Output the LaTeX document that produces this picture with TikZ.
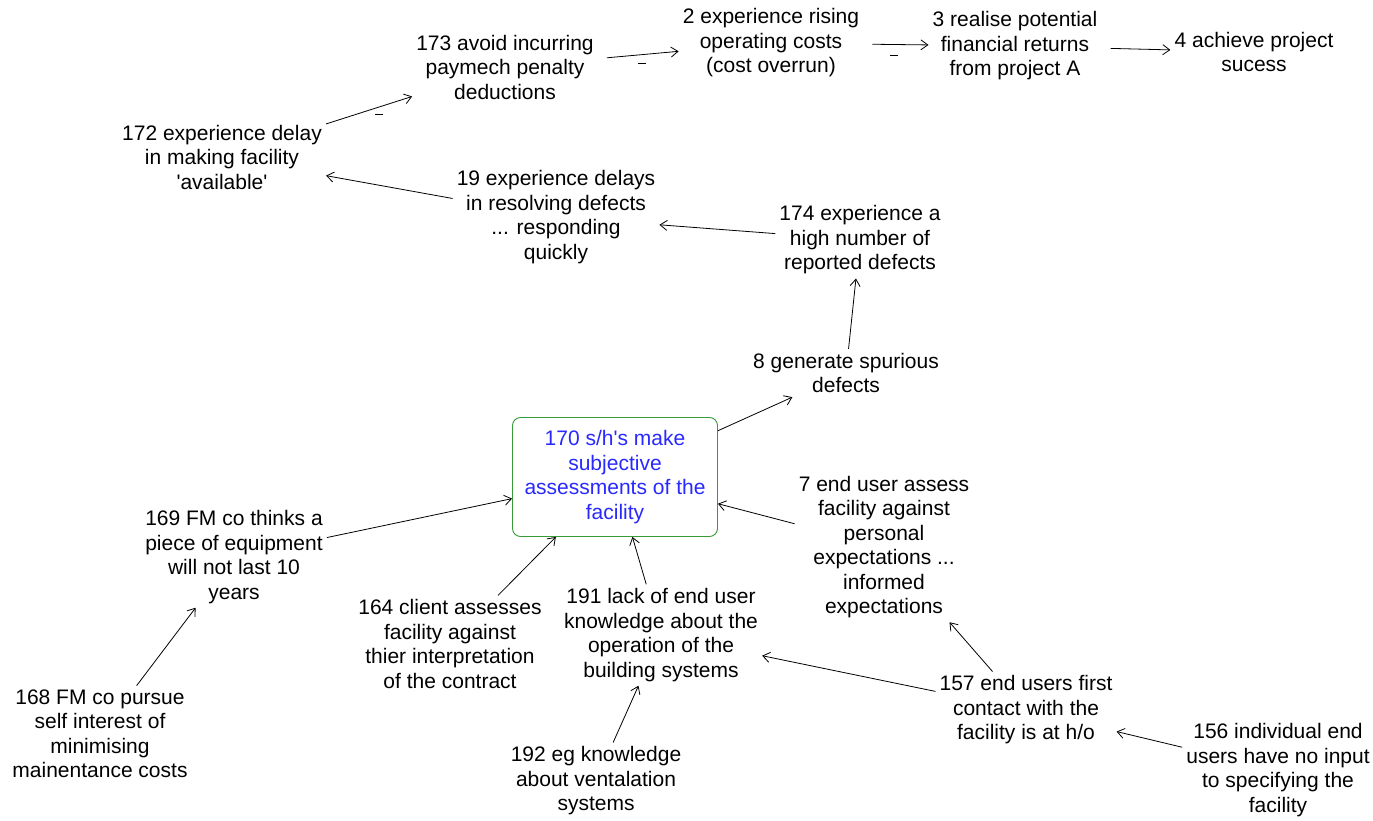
\documentclass[tikz,border=0pt]{standalone}
\usepackage{fontspec}
\setmainfont{Liberation Sans}
\usetikzlibrary{arrows.meta}
\definecolor{coreframe}{RGB}{55,155,55}
\definecolor{coretext}{RGB}{40,40,255}
\begin{document}
\begin{tikzpicture}[x=1pt,y=-1pt,
  concept/.style={align=center,inner sep=4pt,font=\fontsize{21}{24.5}\selectfont},
  core/.style={concept,draw=coreframe,rounded corners=8pt,line width=0.9pt,
    text=coretext,minimum width=205pt,minimum height=119pt,inner sep=2pt},
  link/.style={-{Straight Barb[length=7pt,width=10pt]},line width=0.8pt},
  neg/.style={inner sep=0pt}]
\useasboundingbox (0,0) rectangle (1373,821);

% concepts
\node[concept] (n173) at (505,67) {173 avoid incurring\\paymech penalty\\deductions};
\node[concept] (n2)   at (771,43) {2 experience rising\\operating costs\\(cost overrun)};
\node[concept] (n3)   at (1015,46) {3 realise potential\\financial returns\\from project A};
\node[concept] (n4)   at (1254,52) {4 achieve project\\sucess};
\node[concept] (n172) at (222,157) {172 experience delay\\in making facility\\\textquotesingle available\textquotesingle};
\node[concept] (n19)  at (556,217) {19 experience delays\\in resolving defects\\... responding\\quickly};
\node[concept] (n174) at (860,240) {174 experience a\\high number of\\reported defects};
\node[concept] (n8)   at (846,373) {8 generate spurious\\defects};
\node[core]    (n170) at (615,477) {170 s/h\textquotesingle s make\\subjective\\assessments of the\\facility};
\node[concept] (n7)   at (884,547) {7 end user assess\\facility against\\personal\\expectations ...\\informed\\expectations};
\node[concept] (n169) at (234,557) {169 FM co thinks a\\piece of equipment\\will not last 10\\years};
\node[concept] (n164) at (450,644) {164 client assesses\\facility against\\thier interpretation\\of the contract};
\node[concept] (n191) at (661,635) {191 lack of end user\\knowledge about the\\operation of the\\building systems};
\node[concept] (n168) at (100,734) {168 FM co pursue\\self interest of\\minimising\\mainentance costs};
\node[concept] (n192) at (596,781) {192 eg knowledge\\about ventalation\\systems};
\node[concept] (n157) at (1026,710) {157 end users first\\contact with the\\facility is at h/o};
\node[concept] (n156) at (1278,770) {156 individual end\\users have no input\\to specifying the\\facility};

% links (negative ones carry a small minus mark)
\draw[link] (n172) -- node[neg,pos=0.62,below=7pt] {\rule{8pt}{1pt}} (n173);
\draw[link,shorten <=9pt] (n173) -- node[neg,pos=0.55,below=8pt] {\rule{8pt}{1pt}} (n2);
\draw[link,shorten <=9pt] (n2) -- node[neg,pos=0.47,below=10pt] {\rule{8pt}{1pt}} (n3);
\draw[link,shorten <=9pt] (n3) -- (n4);
\draw[link] (n19) -- (n172);
\draw[link] (n174) -- (n19);
\draw[link] (n8) -- (n174);
\draw[link] (n170) -- (n8);
\draw[link] (n169) -- (n170);
\draw[link] (n164) -- (n170);
\draw[link] (n191) -- (n170);
\draw[link] (n7) -- (n170);
\draw[link] (n168) -- (n169);
\draw[link] (n192) -- (n191);
\draw[link] (n157) -- (n191);
\draw[link] (n157) -- (n7);
\draw[link] (n156) -- (n157);
\end{tikzpicture}
\end{document}
